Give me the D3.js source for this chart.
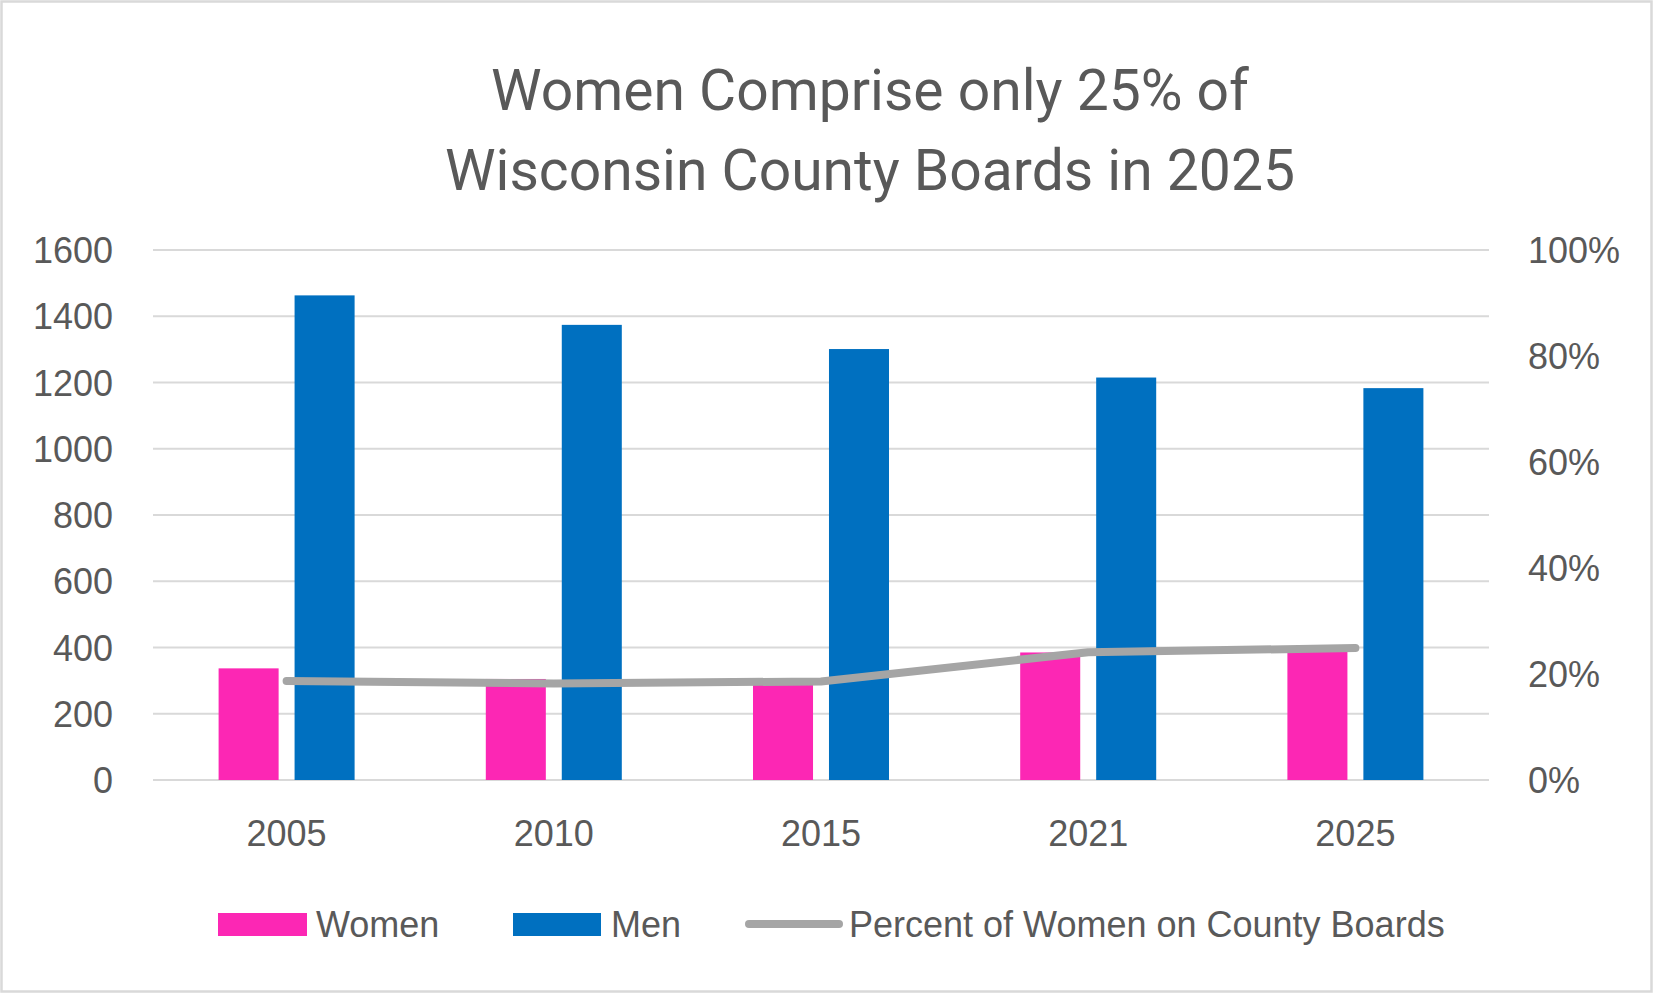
<html>
<head>
  <style>
  body { margin: 0; background: #fff; }
  text { font-family: "Liberation Sans", Arial, sans-serif; fill: #595959; }
  .title { font-family: Roboto, "Liberation Sans", sans-serif; }
  </style>
  <script src="https://d3js.org/d3.v7.min.js"></script>
</head>
<body>
  <script type="text/javascript">
  // data
  var years = ['2005', '2010', '2015', '2021', '2025'];
  var women = [337, 305, 297, 385, 392];
  var men = [1463, 1374, 1301, 1215, 1183];
  var pctWomen = [0.187, 0.182, 0.186, 0.241, 0.249];
  var countTicks = [0, 200, 400, 600, 800, 1000, 1200, 1400, 1600];
  var pctTicks = [0, 0.2, 0.4, 0.6, 0.8, 1.0];
  var titleLines = ['Women Comprise only 25% of', 'Wisconsin County Boards in 2025'];

  var screen = {width: 1653, height: 993};
  var plot = {left: 153, right: 1489, top: 250, bottom: 780};

  var pink = '#FC27B4', blue = '#0070C0', grey = '#A5A5A5', grid = '#D9D9D9';

  var svg = d3.select('body').append('svg')
    .attr('width', screen.width)
    .attr('height', screen.height);

  // chart border
  svg.append('rect')
    .attr('x', 1.5).attr('y', 1.5)
    .attr('width', screen.width - 3).attr('height', screen.height - 3)
    .attr('fill', '#fff')
    .attr('stroke', grid)
    .attr('stroke-width', 2.5);

  // scales
  var xScale = d3.scaleBand()
    .domain(years)
    .range([plot.left, plot.right]);

  var seriesScale = d3.scaleBand()
    .domain(['Women', 'Men'])
    .range([-68, 68])
    .paddingInner(0.21);

  var yScale = d3.scaleLinear()
    .domain([0, 1600])
    .range([plot.bottom, plot.top]);

  var pctScale = d3.scaleLinear()
    .domain([0, 1])
    .range([plot.bottom, plot.top]);

  // gridlines
  svg.append('g').selectAll('line')
    .data(countTicks)
    .enter()
    .append('line')
    .attr('x1', plot.left)
    .attr('x2', plot.right)
    .attr('y1', function(d){ return yScale(d) })
    .attr('y2', function(d){ return yScale(d) })
    .attr('stroke', grid)
    .attr('stroke-width', 2);

  // bars
  var center = function(i){ return xScale(years[i]) + xScale.bandwidth() / 2 };

  svg.append('g').selectAll('rect')
    .data(women)
    .enter()
    .append('rect')
    .attr('x', function(d, i){ return center(i) + seriesScale('Women') })
    .attr('y', function(d){ return yScale(d) })
    .attr('width', seriesScale.bandwidth())
    .attr('height', function(d){ return plot.bottom - yScale(d) })
    .attr('fill', pink);

  svg.append('g').selectAll('rect')
    .data(men)
    .enter()
    .append('rect')
    .attr('x', function(d, i){ return center(i) + seriesScale('Men') })
    .attr('y', function(d){ return yScale(d) })
    .attr('width', seriesScale.bandwidth())
    .attr('height', function(d){ return plot.bottom - yScale(d) })
    .attr('fill', blue);

  // percent line
  var line = d3.line()
    .x(function(d, i){ return center(i) })
    .y(function(d){ return pctScale(d) });

  svg.append('path')
    .datum(pctWomen)
    .attr('d', line)
    .attr('fill', 'none')
    .attr('stroke', grey)
    .attr('stroke-width', 8)
    .attr('stroke-linecap', 'round')
    .attr('stroke-linejoin', 'round');

  // axes
  var styleTicks = function(sel){
    sel.attr('fill', '#595959')
      .style('font-size', '36px')
      .style('font-family', '"Liberation Sans", Arial, sans-serif');
  };

  var leftAxis = d3.axisLeft(yScale).tickValues(countTicks).tickSize(0).tickPadding(0)
    .tickFormat(d3.format('d'));
  svg.append('g')
    .attr('transform', 'translate(113,0)')
    .call(leftAxis)
    .call(function(g){ g.select('.domain').remove() })
    .selectAll('text')
    .attr('dy', '0.35em')
    .call(styleTicks);

  var rightAxis = d3.axisRight(pctScale).tickValues(pctTicks).tickSize(0).tickPadding(0)
    .tickFormat(d3.format('.0%'));
  svg.append('g')
    .attr('transform', 'translate(1528,0)')
    .call(rightAxis)
    .call(function(g){ g.select('.domain').remove() })
    .selectAll('text')
    .attr('dy', '0.35em')
    .call(styleTicks);

  var bottomAxis = d3.axisBottom(xScale).tickSize(0).tickPadding(0);
  svg.append('g')
    .attr('transform', 'translate(0,' + (plot.bottom + 53) + ')')
    .call(bottomAxis)
    .call(function(g){ g.select('.domain').remove() })
    .selectAll('text')
    .attr('dy', '0.35em')
    .call(styleTicks);

  // title
  svg.append('text')
    .attr('class', 'title')
    .attr('text-anchor', 'middle')
    .style('font-size', '57px')
    .selectAll('tspan')
    .data(titleLines)
    .enter()
    .append('tspan')
    .attr('x', 870)
    .attr('y', function(d, i){ return 110 + i * 80 })
    .text(function(d){ return d });

  // legend
  var legendY = 924;
  var legend = svg.append('g');

  legend.append('rect')
    .attr('x', 218).attr('y', legendY - 11)
    .attr('width', 89).attr('height', 23)
    .attr('fill', pink);
  legend.append('text')
    .attr('x', 316).attr('y', legendY + 13)
    .style('font-size', '36px')
    .text('Women');

  legend.append('rect')
    .attr('x', 513).attr('y', legendY - 11)
    .attr('width', 88).attr('height', 23)
    .attr('fill', blue);
  legend.append('text')
    .attr('x', 611).attr('y', legendY + 13)
    .style('font-size', '36px')
    .text('Men');

  legend.append('line')
    .attr('x1', 749).attr('x2', 839)
    .attr('y1', legendY).attr('y2', legendY)
    .attr('stroke', grey)
    .attr('stroke-width', 8)
    .attr('stroke-linecap', 'round');
  legend.append('text')
    .attr('x', 849).attr('y', legendY + 13)
    .style('font-size', '36px')
    .text('Percent of Women on County Boards');

  </script>
</body>
</html>
